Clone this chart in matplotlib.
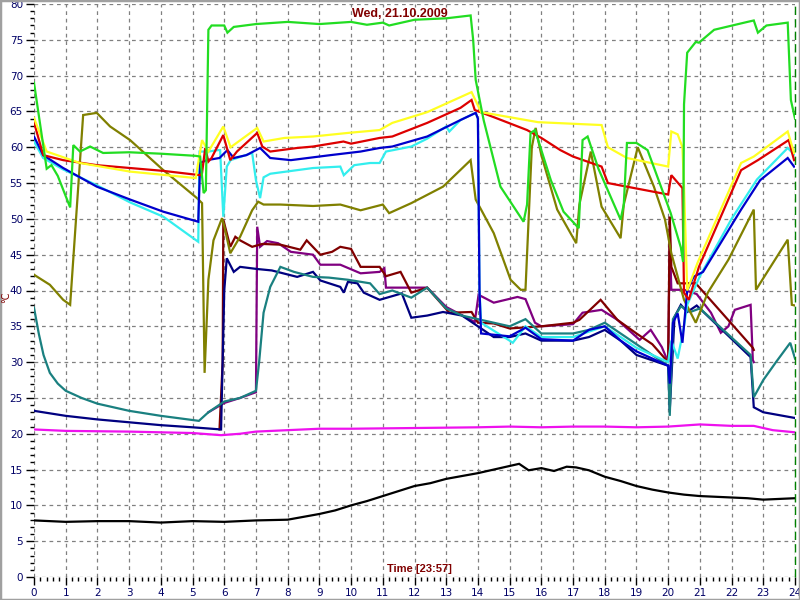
import matplotlib
matplotlib.use("Agg")
import matplotlib.pyplot as plt
from matplotlib.patches import Rectangle
from matplotlib.ticker import MultipleLocator

TITLE = "Wed, 21.10.2009"
XLABEL = "Time [23:57]"
YLABEL = "°C"

green_x = [0, 0.4, 0.55, 0.75, 1.14, 1.24, 1.45, 1.77, 2.18, 3, 4, 5.1, 5.24, 5.35, 5.42, 5.5, 5.6, 5.7,
           6.0, 6.1, 6.3, 7, 8, 9, 10, 10.5, 11, 11.2, 12, 13, 13.77, 13.85, 13.93, 14.18, 14.71, 15.44,
           15.55, 15.66, 15.8, 16.3, 16.7, 17.18, 17.3, 17.46, 17.8, 18.5, 18.6, 18.7, 19.0, 19.35, 20.08,
           20.4, 20.47, 20.5, 20.6, 20.87, 20.97, 21.45, 22.5, 22.7, 22.83, 23.1, 23.77, 23.87, 24]
green_y = [69, 57, 57.5, 56, 51.6, 60.3, 59.4, 60.1, 59.2, 59.3, 59.1, 58.8, 58.7, 53.6, 54, 76.4, 77, 77,
           77, 76, 76.8, 77.2, 77.5, 77.2, 77.5, 77.1, 77.4, 77.0, 77.8, 78, 78.4, 75, 69.4, 63.8, 54.5, 49.6,
           52, 62, 62.4, 55.4, 51, 48.7, 61, 61.5, 57, 49.9, 52, 60.6, 60.6, 59.6, 50.8,
           46, 44, 66, 73.2, 74.7, 74.6, 76.4, 77.5, 77.7, 76, 77, 77.4, 66.6, 64]

red_x = [0, 0.29, 0.92, 1.98, 3.03, 4.08, 5.24, 5.3, 5.4, 5.5, 5.6, 5.97, 6.19, 6.4, 7.04, 7.2, 7.45, 8.3,
         8.8, 9.76, 10.0, 10.9, 11.3, 12.4, 13.45, 13.8, 13.9, 14.5, 15.55, 16.0, 16.6, 17.0, 17.9, 18.1,
         20.0, 20.1, 20.45, 20.5, 20.65, 20.97, 22.3, 22.83, 23.8, 23.97]
red_y = [63.5, 58.9, 58.2, 57.5, 57.1, 56.7, 56.1, 56.4, 59.9, 58, 58.5, 61.7, 58.2, 59.4, 62, 60.1, 59.4, 59.9,
         60.1, 60.8, 60.5, 61.3, 61.5, 63.4, 65.5, 66.6, 65.2, 64.2, 62.4, 61.3, 59.6, 58.7, 57.3, 55,
         53.4, 56.1, 54.3, 39.7, 38.7, 43.3, 56.8, 58.2, 61, 58.2]

yellow_x = [0, 0.4, 1.45, 3.03, 5.1, 5.3, 5.5, 5.97, 6.2, 7.04, 7.24, 7.9, 8.8, 9.9, 10.9, 11.3, 12.4, 13.8,
            14.1, 15.0, 15.9, 17.9, 18.1, 18.7, 20.0, 20.1, 20.3, 20.45, 20.5, 20.6, 20.93, 22.3, 22.7,
            23.77, 23.97]
yellow_y = [64.1, 59.4, 57.8, 56.6, 55.7, 61, 59.4, 62.9, 60, 62.7, 60.8, 61.3, 61.5, 62, 62.4, 63.4, 64.9, 67.7,
            64.9, 64.2, 63.5, 63.1, 60, 58.5, 57.3, 62.2, 61.8, 60, 54.5, 40, 43.9, 57.8, 58.7,
            62.2, 59.2]

blue_x = [0, 0.29, 0.92, 1.98, 3.03, 4.08, 5.18, 5.24, 5.45, 5.85, 6.1, 6.3, 6.7, 7.13, 7.45, 8.1, 9.35,
          10.3, 10.9, 11.3, 12.4, 13.45, 13.93, 14.0, 14.05, 14.1, 15.0, 15.5, 16.0, 17.0, 17.5, 18.0,
          18.5, 19.0, 20.0, 20.05, 20.15, 20.3, 20.45, 20.6, 20.8, 21.1, 22.3, 22.9, 23.77, 23.97]
blue_y = [61.5, 58.9, 57.1, 54.5, 52.7, 51, 49.6, 57.8, 58.2, 58.5, 59.6, 58.5, 58.9, 59.9, 58.5, 58.2, 58.9,
          59.4, 59.9, 60.1, 61.5, 63.8, 64.8, 64, 40, 34, 33.6, 34.8, 33.2, 33, 34.5, 35,
          33, 31.5, 29.5, 27, 35.5, 36.8, 32.7, 40, 41.9, 42.6, 51.3, 55.4, 58.5, 57.3]

cyan_x = [0, 0.29, 0.92, 1.98, 3.03, 4.08, 5.18, 5.22, 5.5, 5.8, 5.87, 5.97, 6.08, 6.2, 6.88, 7.0, 7.13,
          7.24, 7.45, 8.8, 9.66, 9.77, 10.1, 10.6, 10.9, 11.1, 11.9, 12.4, 13.0, 13.1, 13.45, 13.93, 14.0,
          14.05, 14.1, 15.0, 15.1, 15.5, 16.0, 17.0, 18.0, 18.5, 19.0, 20.0, 20.1, 20.3, 20.5, 20.6, 21.0,
          22.0, 22.8, 23.77, 23.97]
cyan_y = [60.8, 58.5, 56.9, 54.7, 52.3, 50.3, 46.8, 59.4, 59.4, 59.6, 59.6, 50.3, 57.3, 58.2, 59.2, 55.4, 52.9,
          55.8, 56.3, 57.1, 57.3, 56.1, 57.5, 57.8, 57.8, 59.4, 60.1, 61.2, 62.9, 62.2, 63.8, 64.8, 64,
          40, 35.5, 33, 32.7, 35, 33.5, 33.5, 35, 33.5, 32, 30, 33, 30.5, 35, 38, 42,
          50, 55.5, 59.9, 59]

olive_x = [0, 0.5, 0.92, 1.14, 1.55, 1.98, 2.4, 3.03, 4.08, 5.14, 5.3, 5.38, 5.5, 5.66, 5.93, 6.0, 6.19,
           6.5, 6.88, 7.07, 7.24, 7.77, 8.8, 9.66, 10.3, 11.0, 11.2, 11.9, 12.9, 13.77, 13.93, 14.5, 15.03,
           15.35, 15.5, 15.7, 15.82, 16.0, 16.5, 17.1, 17.2, 17.56, 17.9, 18.5, 18.6, 19.04, 19.55, 19.9,
           20.1, 20.5, 20.87, 21.25, 21.9, 22.7, 22.77, 23.77, 23.9, 24]
olive_y = [42.2, 40.8, 38.7, 38, 64.5, 64.8, 62.9, 61, 56.8, 52.9, 52.2, 28.5, 41.5, 47, 50.1, 49, 45.2,
           47.5, 51.2, 52.4, 52, 52, 51.8, 52, 51.2, 52, 50.8, 52.2, 54.5, 58.2, 52.7, 48, 41.5,
           40.1, 40.1, 60, 62.7, 58.9, 51.3, 46.6, 52, 59.4, 51.7, 47.3, 52, 60, 54.5, 49.9,
           45.2, 38.7, 35.5, 39.7, 44.3, 51.3, 40.1, 47.1, 38, 37.9]

maroon_x = [5.85, 5.95, 5.97, 6.19, 6.35, 6.5, 6.88, 7.2, 7.77, 8.4, 8.6, 9.03, 9.4, 9.66, 10.0, 10.3, 10.9,
            11.1, 11.56, 11.9, 12.4, 13.1, 13.8, 14.0, 14.5, 15.0, 16.0, 17.0, 17.2, 17.87, 18.4, 19.0,
            19.5, 20.0, 20.05, 20.1, 20.3, 20.5, 20.87, 22.67, 22.7]
maroon_y = [20.6, 30, 49.9, 46.1, 47.5, 47, 46.1, 46.5, 46.4, 45.7, 47, 45, 45.4, 46.1, 45.8, 43.3, 43.3,
            42, 42.6, 39.7, 40.4, 36.9, 37, 35.5, 35.4, 34.7, 35, 35.5, 35.9, 38.7, 35.9, 34,
            32.5, 30, 50.3, 43.3, 41, 41, 41, 32, 31.7]

purple_x = [5.5, 6.0, 6.5, 7.0, 7.04, 7.13, 7.35, 7.7, 8.1, 8.8, 9.03, 9.66, 10.3, 10.9, 11.05, 11.1, 11.6,
            12.4, 13.0, 13.9, 14.02, 14.5, 15.25, 15.5, 15.8, 16.0, 17.0, 17.3, 17.9, 18.4, 19.1, 19.45,
            19.8, 20.0, 20.05, 20.1, 20.5, 20.9, 21.35, 21.66, 21.9, 22.1, 22.6, 22.67, 22.7]
purple_y = [23, 24.3, 25, 25.8, 48.9, 46.1, 46.9, 46.6, 45.4, 45, 43.6, 43.6, 42.4, 42.6, 43.1, 40.4, 40.4,
            40.4, 37.7, 35.6, 39.4, 38.3, 39.1, 38.8, 35.5, 35, 35.3, 36.9, 37.3, 35.9, 33.1, 34.5,
            32.1, 30, 47.5, 40.1, 40.1, 39.5, 36.9, 34.1, 35, 37.3, 38, 30.3, 30]

navy_x = [0, 1, 2, 3, 4, 5, 5.9, 6.0, 6.08, 6.3, 6.5, 7.04, 7.5, 8.3, 8.8, 9.03, 9.66, 9.77, 9.9, 10.2,
          10.4, 10.9, 11.6, 11.9, 12.4, 12.9, 13.5, 14.0, 14.5, 15.0, 15.5, 16.0, 17.0, 17.5, 18.0, 18.5,
          19.0, 20.0, 20.05, 20.2, 20.4, 20.6, 20.9, 22.6, 22.7, 23.0, 24]
navy_y = [23.2, 22.5, 22, 21.6, 21.2, 20.9, 20.6, 40, 44.5, 42.6, 43.3, 43, 42.8, 41.9, 42.6, 41.4, 40.5,
          39.7, 41.2, 41, 39.7, 38.7, 39.6, 36.2, 36.5, 37, 36.5, 35, 33.5, 33.5, 34, 33, 33, 33.5, 34.5,
          33, 31, 29.5, 23.3, 36.3, 38, 37, 37.9, 30.7, 23.7, 23, 22.2]

teal_x = [0, 0.15, 0.3, 0.5, 0.75, 1, 1.5, 2, 3, 4, 5.2, 5.5, 6.0, 6.5, 7.0, 7.1, 7.24, 7.45, 7.77, 8.2,
          8.8, 9.3, 9.9, 10.6, 10.9, 11.3, 11.9, 12.4, 13.0, 13.5, 14.0, 14.5, 15.0, 15.5, 16.0, 17.0,
          17.5, 18.0, 18.5, 19.0, 20.0, 20.05, 20.15, 20.4, 20.7, 21.0, 22.6, 22.7, 23.0, 23.4, 23.85, 24]
teal_y = [37.6, 34, 31, 28.5, 27, 26, 25, 24.2, 23.2, 22.5, 21.8, 23, 24.5, 25, 26, 30, 36.9, 40.5, 43.3,
          42.6, 41.9, 41.8, 41.5, 41, 39.5, 40, 39, 40.4, 37.5, 36.5, 36, 35.5, 35, 36, 34, 34,
          34.5, 35.5, 34, 32.5, 29.5, 22.5, 36, 37.8, 37, 37.5, 31, 25.1, 27.5, 30, 32.7, 30.5]

magenta_x = [0, 1, 3, 5, 5.9, 6.5, 7, 8, 9, 10, 12, 14, 15, 16, 17, 18, 19, 20, 21, 22, 22.7, 23.3, 24]
magenta_y = [20.6, 20.4, 20.3, 20.1, 19.8, 20, 20.3, 20.5, 20.7, 20.7, 20.8, 20.9, 21, 20.9, 21, 21, 20.9,
             21, 21.3, 21.1, 21.1, 20.5, 20.2]

black_x = [0, 1, 2, 3, 4, 5, 6, 7, 8, 8.5, 9, 9.5, 10, 10.5, 11, 11.5, 12, 12.5, 13, 13.5, 14, 14.5, 15,
           15.3, 15.6, 16, 16.4, 16.8, 17.1, 17.5, 18, 18.5, 19, 19.5, 20, 20.5, 21, 21.5, 22, 22.5, 23,
           23.5, 24]
black_y = [7.9, 7.7, 7.8, 7.8, 7.6, 7.8, 7.7, 7.9, 8, 8.4, 8.8, 9.3, 10, 10.6, 11.3, 12, 12.7, 13.1, 13.7,
           14.1, 14.5, 15, 15.5, 15.8, 14.9, 15.2, 14.8, 15.4, 15.3, 14.9, 14, 13.4, 12.7, 12.2, 11.8,
           11.5, 11.3, 11.2, 11.1, 11, 10.8, 10.9, 11]

series = [
    (purple_x, purple_y, "#800080"),
    (maroon_x, maroon_y, "#800000"),
    (navy_x, navy_y, "#000080"),
    (teal_x, teal_y, "#1a8080"),
    (olive_x, olive_y, "#808000"),
    (cyan_x, cyan_y, "#33eeee"),
    (blue_x, blue_y, "#0000cc"),
    (red_x, red_y, "#dd0000"),
    (yellow_x, yellow_y, "#ffff22"),
    (green_x, green_y, "#22dd22"),
    (magenta_x, magenta_y, "#ee11ee"),
    (black_x, black_y, "#000000"),
]

fig = plt.figure(figsize=(8, 6), dpi=100)
ax = fig.add_axes([34 / 800, 23 / 600, 761 / 800, 573 / 600])
ax.set_xlim(0, 24); ax.set_ylim(0, 80)

ax.grid(True, which="major", color="#808080", ls=(0, (3, 3)), lw=0.9, zorder=0)
ax.set_axisbelow(True)
for s in ax.spines.values():
    s.set_visible(False)

ax.xaxis.set_major_locator(MultipleLocator(1)); ax.xaxis.set_minor_locator(MultipleLocator(0.2))
ax.yaxis.set_major_locator(MultipleLocator(5)); ax.yaxis.set_minor_locator(MultipleLocator(1))
ax.tick_params(which="major", length=6, width=1, color="black", labelcolor="#000066",
               labelsize=7.5, pad=2)
ax.tick_params(which="minor", length=3.2, width=1, color="black")

ax.text((400 - 34) / 761, 0.982, TITLE, transform=ax.transAxes, ha="center", va="center",
        color="#800000", fontweight="bold", family="Liberation Sans", fontsize=9, zorder=1)
ax.text(0.506, 0.014, XLABEL, transform=ax.transAxes, ha="center", va="center",
        color="#800000", fontweight="bold", family="Liberation Sans", fontsize=8, zorder=1)
fig.text(0.0075, 0.505, YLABEL, rotation=90, ha="center", va="center", color="#800000", fontsize=7)

for x, y, c in series:
    ax.plot(x, y, color=c, lw=1.6, zorder=3, solid_joinstyle="miter")

ax.axvline(24, color="#008000", ls=(0, (6, 3)), lw=1.0, zorder=4, clip_on=False)

fig.patches.append(Rectangle((0, 0), 1, 1, transform=fig.transFigure, fill=False,
                             ec="#a0a0a0", lw=2.5))
fig.savefig("out.png", dpi=100)
